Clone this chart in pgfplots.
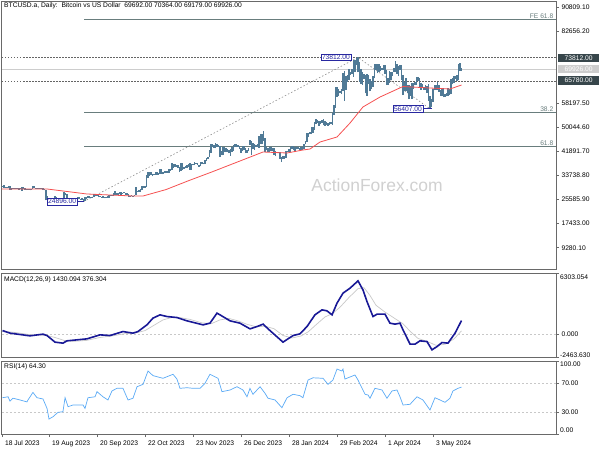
\documentclass[border=0pt]{standalone}
\usepackage{fontspec}
\setmainfont{Liberation Sans}
\usepackage{pgfplots}
\usepackage{pgfplotstable}
\pgfplotsset{compat=1.18}

\definecolor{barcol}{RGB}{80,122,150}
\definecolor{macol}{RGB}{245,80,80}
\definecolor{fibcol}{RGB}{105,125,125}
\definecolor{dashcol}{RGB}{100,100,100}
\definecolor{trendcol}{RGB}{140,140,140}
\definecolor{macdcol}{RGB}{25,25,150}
\definecolor{sigcol}{RGB}{200,200,200}
\definecolor{rsicol}{RGB}{90,170,245}
\definecolor{framecol}{RGB}{105,105,105}
\definecolor{boxdark}{RGB}{55,70,75}
\definecolor{boxlight}{RGB}{205,205,205}
\definecolor{tagcol}{RGB}{40,40,160}
\definecolor{wmcol}{RGB}{208,208,208}

\newcommand\lbl{\fontsize{6.7}{8}\selectfont}

% daily bars: index, high, low
\pgfplotstableread[row sep=\\]{
i h l\\
0 30200 29500\\ 1 30200 29800\\ 2 30400 29600\\ 3 30000 29800\\ 4 30000 29600\\
5 30300 29700\\ 6 30100 28900\\ 7 29400 29000\\ 8 29700 29100\\ 9 29600 29100\\
10 29500 29100\\ 11 29400 29250\\ 12 29500 29000\\ 13 29500 29100\\ 14 29900 28600\\
15 30000 29100\\ 16 29400 29000\\ 17 29300 28800\\ 18 29100 28900\\ 19 29200 28900\\
20 29300 28700\\ 21 30200 29100\\ 22 30100 29400\\ 23 29700 29300\\ 24 29600 29300\\
25 29500 29400\\ 26 29500 29200\\ 27 29700 29100\\ 28 29400 29000\\ 29 29200 28700\\
30 28800 25300\\ 31 26800 25700\\ 32 26300 25800\\ 33 26200 25900\\ 34 26200 25800\\
35 26150 25350\\ 36 26800 25800\\ 37 26550 25900\\ 38 26300 25800\\ 39 26100 25950\\
40 26200 25950\\ 41 26250 25850\\ 42 28150 25900\\ 43 27750 27050\\ 44 27550 25700\\
45 26150 25350\\ 46 25950 25750\\ 47 26100 25800\\ 48 26100 25600\\ 49 25900 25600\\
50 26000 25400\\ 51 26450 25600\\ 52 26400 25650\\ 53 25950 25800\\ 54 26000 25550\\
55 25650 24896\\ 56 26500 25100\\ 57 26400 25750\\ 58 26800 26100\\ 59 26900 26250\\
60 26650 26450\\ 61 26600 26400\\ 62 27400 26400\\ 63 27500 26700\\ 64 27350 26850\\
65 27150 26350\\ 66 26750 26450\\ 67 26650 26550\\ 68 26700 26150\\ 69 26350 26000\\
70 26400 26100\\ 71 26800 26150\\ 72 27300 26300\\ 73 27200 26700\\ 74 27050 26850\\
75 28000 26950\\ 76 28550 27300\\ 77 27700 27150\\ 78 27850 27200\\ 79 28100 27350\\
80 28250 27200\\ 81 28000 27850\\ 82 28100 27700\\ 83 28000 27300\\ 84 27700 27300\\
85 27500 26550\\ 86 26850 26550\\ 87 27050 26700\\ 88 26950 26800\\ 89 27300 26850\\
90 30000 27100\\ 91 28600 28100\\ 92 28850 28200\\ 93 29100 28200\\ 94 30200 28700\\
95 30300 29500\\ 96 30200 29700\\ 97 34000 29900\\ 98 35100 32900\\ 99 35000 33700\\
100 34800 33900\\ 101 34400 33500\\ 102 34400 33900\\ 103 34800 34000\\ 104 34850 34100\\
105 34700 34100\\ 106 35900 34300\\ 107 35950 34300\\ 108 34900 34150\\ 109 35300 34600\\
110 35400 34600\\ 111 35300 34750\\ 112 35850 34550\\ 113 35900 35300\\ 114 37900 35600\\
115 37550 36400\\ 116 37600 36800\\ 117 37250 36800\\ 118 37300 36300\\ 119 36800 34900\\
120 37950 35400\\ 121 37950 35650\\ 122 36700 35900\\ 123 36850 36200\\ 124 37500 36400\\
125 37700 36800\\ 126 37850 35700\\ 127 37800 35700\\ 128 37700 37200\\ 129 38400 37300\\
130 37900 37600\\ 131 37850 37200\\ 132 37450 36800\\ 133 38300 36850\\ 134 38400 37600\\
135 38150 37550\\ 136 38950 37650\\ 137 39700 38650\\ 138 40000 39300\\ 139 42400 39900\\
140 44450 41450\\ 141 44300 43400\\ 142 44100 43100\\ 143 44700 43000\\ 144 44350 43600\\
145 44050 43600\\ 146 43800 40200\\ 147 42100 40700\\ 148 43400 40600\\ 149 43400 41800\\
150 43100 41700\\ 151 42700 41700\\ 152 42400 41250\\ 153 42700 40550\\ 154 43400 41800\\
155 44250 42200\\ 156 44300 43300\\ 157 44400 43400\\ 158 44000 43600\\ 159 43900 42800\\
160 43000 41500\\ 161 43650 42150\\ 162 43800 42300\\ 163 43100 41350\\ 164 42550 41550\\
165 43000 41950\\ 166 45900 44250\\ 167 45500 40800\\ 168 44750 42650\\ 169 44300 42500\\
170 44200 43400\\ 171 44500 43600\\ 172 47200 43200\\ 173 47900 44500\\ 174 47700 44300\\
175 49000 45600\\ 176 46500 41700\\ 177 43300 42450\\ 178 43100 41700\\ 179 43300 41700\\
180 43550 42050\\ 181 43200 42200\\ 182 42950 40700\\ 183 42200 40300\\ 184 41850 41500\\
185 41900 41500\\ 186 41650 39450\\ 187 40150 38500\\ 188 40500 39500\\ 189 40300 39500\\
190 42200 39850\\ 191 42200 41650\\ 192 42800 41650\\ 193 43300 41800\\ 194 43850 42700\\
195 43700 42300\\ 196 43300 41900\\ 197 43400 42600\\ 198 43400 42900\\ 199 43100 42300\\
200 43500 42300\\ 201 43400 42550\\ 202 44400 42700\\ 203 45600 44300\\ 204 48200 45300\\
205 48200 46800\\ 206 48550 47700\\ 207 50300 47800\\ 208 50350 48350\\ 209 52000 49250\\
210 52800 51350\\ 211 52550 51600\\ 212 52200 50650\\ 213 52350 51150\\ 214 52500 51650\\
215 52950 50800\\ 216 52350 50650\\ 217 52000 50950\\ 218 51500 50550\\ 219 51950 50950\\
220 51900 51300\\ 221 54900 50900\\ 222 57550 54450\\ 223 63900 56700\\ 224 63650 60400\\
225 63200 60800\\ 226 62450 61600\\ 227 63200 61400\\ 228 68500 62400\\ 229 69200 59200\\
230 67600 62800\\ 231 67900 65600\\ 232 69900 66200\\ 233 68700 68000\\ 234 69900 68200\\
235 72800 67300\\ 236 72800 68800\\ 237 73600 71400\\ 238 73812 68700\\ 239 72300 65600\\
240 70000 64800\\ 241 68800 64600\\ 242 68200 66600\\ 243 68000 61600\\ 244 68100 60800\\
245 68000 64800\\ 246 66600 62300\\ 247 65800 63100\\ 248 67600 63800\\ 249 71500 66700\\
250 71500 69500\\ 251 71700 68400\\ 252 71500 68800\\ 253 70900 69100\\ 254 70300 69500\\
255 71300 69600\\ 256 71300 68300\\ 257 69600 64600\\ 258 66900 64500\\ 259 69200 65100\\
260 68700 66000\\ 261 69000 67600\\ 262 70200 68900\\ 263 72700 69000\\ 264 71700 68200\\
265 71000 67500\\ 266 71200 69600\\ 267 71200 66300\\ 268 68000 61000\\ 269 65400 62300\\
270 66800 62400\\ 271 64300 61800\\ 272 64400 59700\\ 273 64000 60900\\ 274 65300 59700\\
275 65200 63200\\ 276 65600 64300\\ 277 67100 64500\\ 278 67200 65900\\ 279 67000 63800\\
280 65200 62900\\ 281 64800 63400\\ 282 63900 62800\\ 283 64300 62900\\ 284 64200 61800\\
285 64700 59100\\ 286 60800 56407\\ 287 59600 56900\\ 288 63200 58800\\ 289 64500 62600\\
290 64600 62900\\ 291 65400 62800\\ 292 64300 62100\\ 293 62900 60900\\ 294 63200 60700\\
295 63400 60300\\ 296 61400 60500\\ 297 61800 60600\\ 298 63300 60800\\ 299 63100 61100\\
300 66400 61300\\ 301 66700 64700\\ 302 67400 65100\\ 303 67400 66600\\ 304 67700 65900\\
305 71500 66000\\ 306 71900 69200\\ 307 70364 69179\\
}\price

% moving average
\pgfplotstableread[row sep=\\]{
i v\\
0.67 29200\\ 30.7 29200\\ 57.3 27500\\ 88 26820\\ 94.7 26820\\ 110 29000\\
125 32000\\ 140.7 35000\\ 174.7 41740\\ 190.7 41400\\ 201.3 42420\\ 206 42760\\
212.7 45130\\ 224 46830\\ 232.7 51580\\ 241.3 57010\\ 252.7 60390\\ 268 63950\\
286 63440\\ 299.3 63100\\ 307 64460\\
}\ma

% MACD main line
\pgfplotstableread[row sep=\\]{
i v\\
1 410\\ 6 143\\ 19.3 -133\\ 28 41\\ 30.7 -102\\ 36 -778\\ 41.3 -881\\ 44 -645\\
57.3 -440\\ 66 -31\\ 72.7 -102\\ 81.3 307\\ 88 143\\ 91.3 307\\ 97.3 993\\
101.3 1679\\ 106 2017\\ 110.7 1843\\ 117.3 1741\\ 124 1403\\ 134.7 993\\ 139.3 1167\\
144 2191\\ 146 2017\\ 152.7 1403\\ 159.3 1167\\ 166 584\\ 170.7 819\\ 174.7 1065\\
179.3 410\\ 188 -778\\ 194.7 -102\\ 199.3 72\\ 204 819\\ 209.3 2017\\ 214 2529\\
217.3 2427\\ 220.7 2017\\ 224 3215\\ 228 4239\\ 232.7 4751\\ 238 5499\\ 241.3 4577\\
244 3379\\ 248 1843\\ 250.7 2089\\ 256 2089\\ 259.3 1167\\ 262.7 1065\\ 266 1167\\
268 481\\ 272.7 -983\\ 276 -983\\ 279.3 -645\\ 284 -717\\ 287.3 -1567\\ 290.7 -1229\\
294 -819\\ 298 -881\\ 302.7 143\\ 307 1430\\
}\macd

% MACD signal line
\pgfplotstableread[row sep=\\]{
i v\\
1 350\\ 10 200\\ 20 -30\\ 30 -80\\ 36 -300\\ 42 -600\\ 48 -700\\ 57 -600\\
66 -300\\ 75 -120\\ 82 80\\ 90 180\\ 96 400\\ 102 950\\ 108 1500\\ 114 1750\\
120 1720\\ 126 1550\\ 134 1200\\ 140 1100\\ 146 1500\\ 152 1650\\ 158 1400\\
164 1050\\ 170 800\\ 176 850\\ 182 600\\ 188 -100\\ 194 -350\\ 200 -150\\
205 300\\ 210 1000\\ 216 1800\\ 221 2150\\ 226 2800\\ 232 3800\\ 238 4700\\
242 4800\\ 246 4000\\ 250 3000\\ 256 2300\\ 262 1700\\ 268 1100\\ 273 300\\
278 -400\\ 284 -700\\ 290 -1100\\ 296 -1000\\ 302 -450\\ 307 376\\
}\sig

% RSI(14)
\pgfplotstableread[row sep=\\]{
i v\\
1 49.7\\ 4.7 51\\ 6 45\\ 8 49\\ 12.7 46.6\\ 17.3 44\\ 18 46.6\\ 21.3 57\\
24 49.7\\ 28 48\\ 30.7 35\\ 32 20.5\\ 34.7 23.7\\ 38 29.7\\ 41.3 30.5\\
42.7 49.7\\ 44.7 37.4\\ 48 39.7\\ 54.7 39.7\\ 56 35\\ 58 49.7\\ 62.7 51\\
64 58\\ 68 51\\ 71.3 46.6\\ 74 59\\ 77.3 62.6\\ 81.3 62.6\\ 84.7 46.6\\
88 49\\ 90.7 64.8\\ 94.7 68\\ 98 86.3\\ 101.3 80\\ 108 76.3\\ 114.7 81.8\\
117.3 75.3\\ 119.3 62.6\\ 124 63.4\\ 128 62.6\\ 132.7 62.6\\ 136 69.5\\
139.3 81.8\\ 144.7 76.3\\ 147.3 58\\ 152.7 60.3\\ 157.3 64.8\\ 161.3 60.3\\
164 51\\ 166 62.6\\ 168 54.4\\ 172.7 64.8\\ 176 55.8\\ 178 49\\ 182.7 46.6\\
187.3 36\\ 190.7 49.7\\ 194.7 54.4\\ 199.3 52.5\\ 201.3 49.7\\ 204.7 74\\
208 77\\ 214.7 76.3\\ 218 68\\ 221.3 74\\ 224 89\\ 227.3 86.3\\ 228 89\\
229.3 75.3\\ 236 80.8\\ 238 74\\ 240.7 62.6\\ 242.7 54.4\\ 244.7 53.4\\
246 49\\ 249.3 62.6\\ 254 60.3\\ 257.3 49\\ 260.7 59\\ 264 60.3\\ 266 51\\
268 39.7\\ 272.7 40.7\\ 277.3 51\\ 281.3 46.6\\ 286 32.9\\ 289.3 49.7\\
292.7 46.6\\ 296 43.4\\ 299.3 49\\ 301.3 59\\ 304.7 62.6\\ 307 64.3\\
}\rsi

\pgfplotsset{panel/.style={
  scale only axis, width=554pt, xmin=0.67, xmax=370, anchor=north west,
  axis line style={framecol, line width=1pt},
  tick style={framecol, line width=0.6pt},
  tick align=outside, major tick length=3pt,
  ytick pos=right, yticklabel pos=right,
  yticklabel style={font=\lbl, anchor=west, xshift=-1pt},
  scaled y ticks=false, scaled x ticks=false,
  xtick=\empty,
}}

\begin{document}
\begin{tikzpicture}
\path[use as bounding box] (0,0) rectangle (600pt,-450pt);

% price panel
\begin{axis}[panel, at={(2pt,-1pt)}, height=269pt, ymin=1727, ymax=92945,
  ytick={9280.1,17433,25585.9,33738.8,41891.7,50044.6,58197.5,82656.2,90809.1},
  yticklabels={9280.10,17433.00,25585.90,33738.80,41891.70,50044.60,58197.50,82656.20,90809.10}]
\node[font=\fontsize{17.5}{20}\selectfont, text=wmcol] at (axis cs:250.7,30553) {ActionForex.com};
\addplot[boxlight, line width=0.7pt] coordinates {(0.67,69926) (370,69926)};
\addplot[dashcol, line width=0.6pt, dash pattern=on 1.5pt off 1.5pt] coordinates {(0.67,73812) (370,73812)};
\addplot[dashcol, line width=0.6pt, dash pattern=on 1.5pt off 1.5pt] coordinates {(0.67,65780) (370,65780)};
\addplot[fibcol, line width=0.9pt] coordinates {(55.4,86637) (370,86637)};
\addplot[fibcol, line width=0.9pt] coordinates {(55.4,55126) (370,55126)};
\addplot[fibcol, line width=0.9pt] coordinates {(55.4,43582) (370,43582)};
\addplot[trendcol, line width=0.6pt, dash pattern=on 1.5pt off 2pt] coordinates {(55,24896) (238,73812) (286,56407)};
\addplot[draw=none, no markers, error bars/.cd, y dir=plus, y explicit, error mark=none,
  error bar style={draw=barcol, line width=1.1pt, solid}]
  table[x=i, y=l, y error expr=\thisrow{h}-\thisrow{l}] {\price};
\addplot[macol, line width=0.8pt] table[x=i, y=v] {\ma};
\addplot[tagcol, line width=0.6pt] coordinates {(50.7,24896) (55.4,24896)};
\addplot[tagcol, line width=0.6pt] coordinates {(281.3,56407) (287,56407)};
\node[font=\lbl, text=fibcol, anchor=south east, inner sep=1pt] at (axis cs:369,86637) {FE 61.8};
\node[font=\lbl, text=fibcol, anchor=south east, inner sep=1pt] at (axis cs:369,55126) {38.2};
\node[font=\lbl, text=fibcol, anchor=south east, inner sep=1pt] at (axis cs:369,43582) {61.8};
\node[draw=tagcol, fill=white, text=tagcol, font=\lbl, inner sep=0.8pt, anchor=east] at (axis cs:233.3,73812) {73812.00};
\node[draw=tagcol, fill=white, text=tagcol, font=\lbl, inner sep=0.8pt, anchor=east] at (axis cs:281.3,56407) {56407.00};
\node[draw=tagcol, fill=white, text=tagcol, font=\lbl, inner sep=0.8pt, anchor=east] at (axis cs:50.7,24896) {24896.00};
\end{axis}

% MACD panel
\begin{axis}[panel, at={(2pt,-273pt)}, height=84pt, ymin=-2300, ymax=6303,
  ytick={-2300,0,6303}, yticklabels={,0.000,}]
\addplot[sigcol, line width=0.6pt, dash pattern=on 2pt off 2pt] coordinates {(0.67,0) (370,0)};
\addplot[sigcol, line width=0.7pt] table[x=i, y=v] {\sig};
\addplot[macdcol, line width=1.6pt] table[x=i, y=v] {\macd};
\end{axis}

% RSI panel
\begin{axis}[panel, at={(2pt,-361pt)}, height=73pt, ymin=0, ymax=100,
  ytick={0,30,70,100}, yticklabels={,30.00,70.00,},
  xtick={0.67,32,64,96,128,160,192,224,256,288}, xtick pos=left,
  xticklabels={18 Jul 2023,19 Aug 2023,20 Sep 2023,22 Oct 2023,23 Nov 2023,26 Dec 2023,28 Jan 2024,29 Feb 2024,1 Apr 2024,3 May 2024},
  xticklabel style={font=\lbl, anchor=north west, xshift=-0.5pt}]
\addplot[sigcol, line width=0.6pt, dash pattern=on 2pt off 2pt] coordinates {(0.67,70) (370,70)};
\addplot[sigcol, line width=0.6pt, dash pattern=on 2pt off 2pt] coordinates {(0.67,30) (370,30)};
\addplot[rsicol, line width=0.7pt] table[x=i, y=v] {\rsi};
\end{axis}

% titles
\node[font=\lbl, anchor=west, inner sep=0pt] at (4pt,-6pt) {BTCUSD.a, Daily:\ \ Bitcoin vs US Dollar\ \ 69692.00 70364.00 69179.00 69926.00};
\node[font=\lbl, anchor=west, inner sep=0pt] at (4pt,-280pt) {MACD(12,26,9) 1430.094 376.304};
\node[font=\lbl, anchor=west, inner sep=0pt] at (4pt,-367pt) {RSI(14) 64.30};

% right-side price tags and edge labels
\node[fill=boxdark, text=white, font=\lbl, inner sep=0pt, minimum width=41pt, minimum height=8.5pt, anchor=west] at (558pt,-58pt) {73812.00};
\node[fill=boxlight, text=white, font=\lbl, inner sep=0pt, minimum width=41pt, minimum height=8.5pt, anchor=west] at (558pt,-69pt) {69926.00};
\node[fill=boxdark, text=white, font=\lbl, inner sep=0pt, minimum width=41pt, minimum height=8.5pt, anchor=west] at (558pt,-80.5pt) {65780.00};
\node[font=\lbl, anchor=west, inner sep=0pt] at (560pt,-277pt) {6303.054};
\node[font=\lbl, anchor=west, inner sep=0pt] at (560pt,-355pt) {-2463.630};
\node[font=\lbl, anchor=west, inner sep=0pt] at (560pt,-364pt) {100.00};
\node[font=\lbl, anchor=west, inner sep=0pt] at (560pt,-430pt) {0.00};
\end{tikzpicture}
\end{document}
